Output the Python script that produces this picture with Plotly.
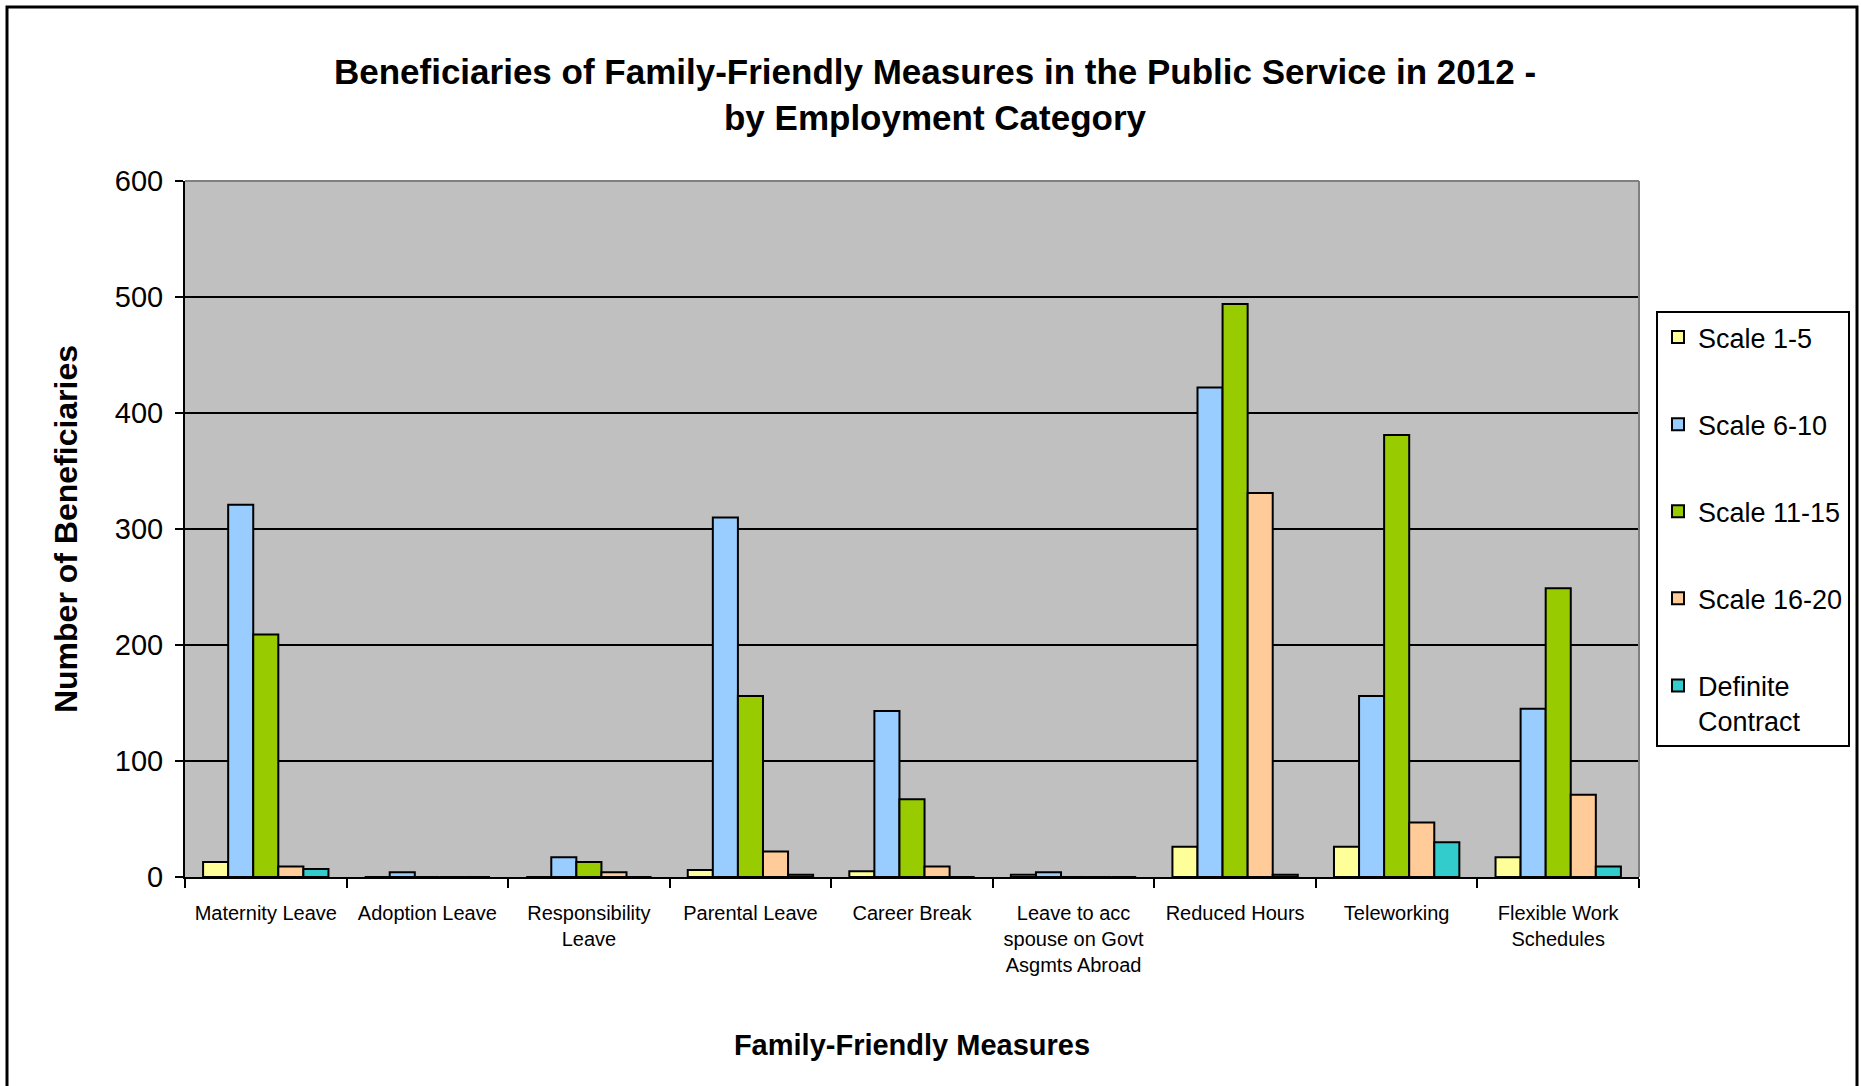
import plotly.graph_objects as go

categories = [
    "Maternity Leave", "Adoption Leave", "Responsibility<br>Leave", "Parental Leave",
    "Career Break", "Leave to acc<br>spouse on Govt<br>Asgmts Abroad", "Reduced Hours",
    "Teleworking", "Flexible Work<br>Schedules",
]
series_names = ["Scale 1-5", "Scale 6-10", "Scale 11-15", "Scale 16-20", "Definite<br>Contract"]
scale_1_5 = [13, 0, 0, 6, 5, 2, 26, 26, 17]
scale_6_10 = [321, 4, 17, 310, 143, 4, 422, 156, 145]
scale_11_15 = [209, 0, 13, 156, 67, 0, 494, 381, 249]
scale_16_20 = [9, 0, 4, 22, 9, 0, 331, 47, 71]
definite_contract = [7, 0, 0, 2, 0, 0, 2, 30, 9]
y_ticks = [0, 100, 200, 300, 400, 500, 600]

colors = ["#FFFF99", "#99CCFF", "#99CC00", "#FFCC99", "#33CCCC"]
values = [scale_1_5, scale_6_10, scale_11_15, scale_16_20, definite_contract]

FONT = "Liberation Sans, Arial, sans-serif"

fig = go.Figure()
for i, (name, vals, col) in enumerate(zip(series_names, values, colors)):
    fig.add_trace(go.Bar(
        x=categories, y=vals, name=name, legendgroup=f"g{i}",
        marker=dict(color=col, line=dict(color="black", width=2)),
    ))

W, H = 1861, 1086
L, R, T, B = 185, 1639, 181, 877

fig.update_layout(
    width=W, height=H,
    margin=dict(l=L, r=W - R, t=T, b=H - B, autoexpand=False),
    paper_bgcolor="white", plot_bgcolor="#C0C0C0",
    barmode="group", bargap=0.224, bargroupgap=0,
    title=dict(
        text="Beneficiaries of Family-Friendly Measures in the Public Service in 2012 -<br>by Employment Category",
        x=935 / W, xanchor="center", xref="container",
        y=1 - 84 / H, yanchor="middle", yref="container",
        font=dict(family=FONT, size=35, color="black", weight="bold"),
    ),
    legend=dict(
        xref="container", yref="container",
        x=1656 / W, xanchor="left",
        y=1 - 311 / H, yanchor="top",
        bgcolor="white", bordercolor="black", borderwidth=2,
        font=dict(family=FONT, size=27, color="black"),
        tracegroupgap=49, valign="top", itemwidth=30,
    ),
    xaxis=dict(
        tickson="boundaries", ticks="outside", ticklen=9, tickwidth=2, tickcolor="black",
        showline=True, linecolor="black", linewidth=2,
        tickfont=dict(family=FONT, size=20, color="black"),
        ticklabelstandoff=17,
        title=dict(text="Family-Friendly Measures", standoff=60,
                   font=dict(family=FONT, size=29, color="black", weight="bold")),
    ),
    yaxis=dict(
        range=[0, 600], tickvals=y_ticks, ticks="outside", ticklen=8, tickwidth=2,
        tickcolor="black", showline=True, linecolor="black", linewidth=2,
        showgrid=True, gridcolor="black", gridwidth=2, zeroline=False,
        tickfont=dict(family=FONT, size=29, color="black"),
        ticklabelstandoff=6,
        title=dict(text="Number of Beneficiaries", standoff=28,
                   font=dict(family=FONT, size=32, color="black", weight="bold")),
    ),
    shapes=[
        dict(type="line", xref="paper", yref="paper", x0=0, x1=1, y0=1, y1=1,
             line=dict(color="#808080", width=2)),
        dict(type="line", xref="paper", yref="paper", x0=1, x1=1, y0=0, y1=1,
             line=dict(color="#808080", width=2)),
        dict(type="rect", xref="paper", yref="paper",
             x0=(7 - L) / (R - L), x1=(1857 - L) / (R - L),
             y0=(B - 1100) / (B - T), y1=(B - 7) / (B - T),
             line=dict(color="black", width=3), layer="below"),
    ],
)

fig.write_html("out.html")
